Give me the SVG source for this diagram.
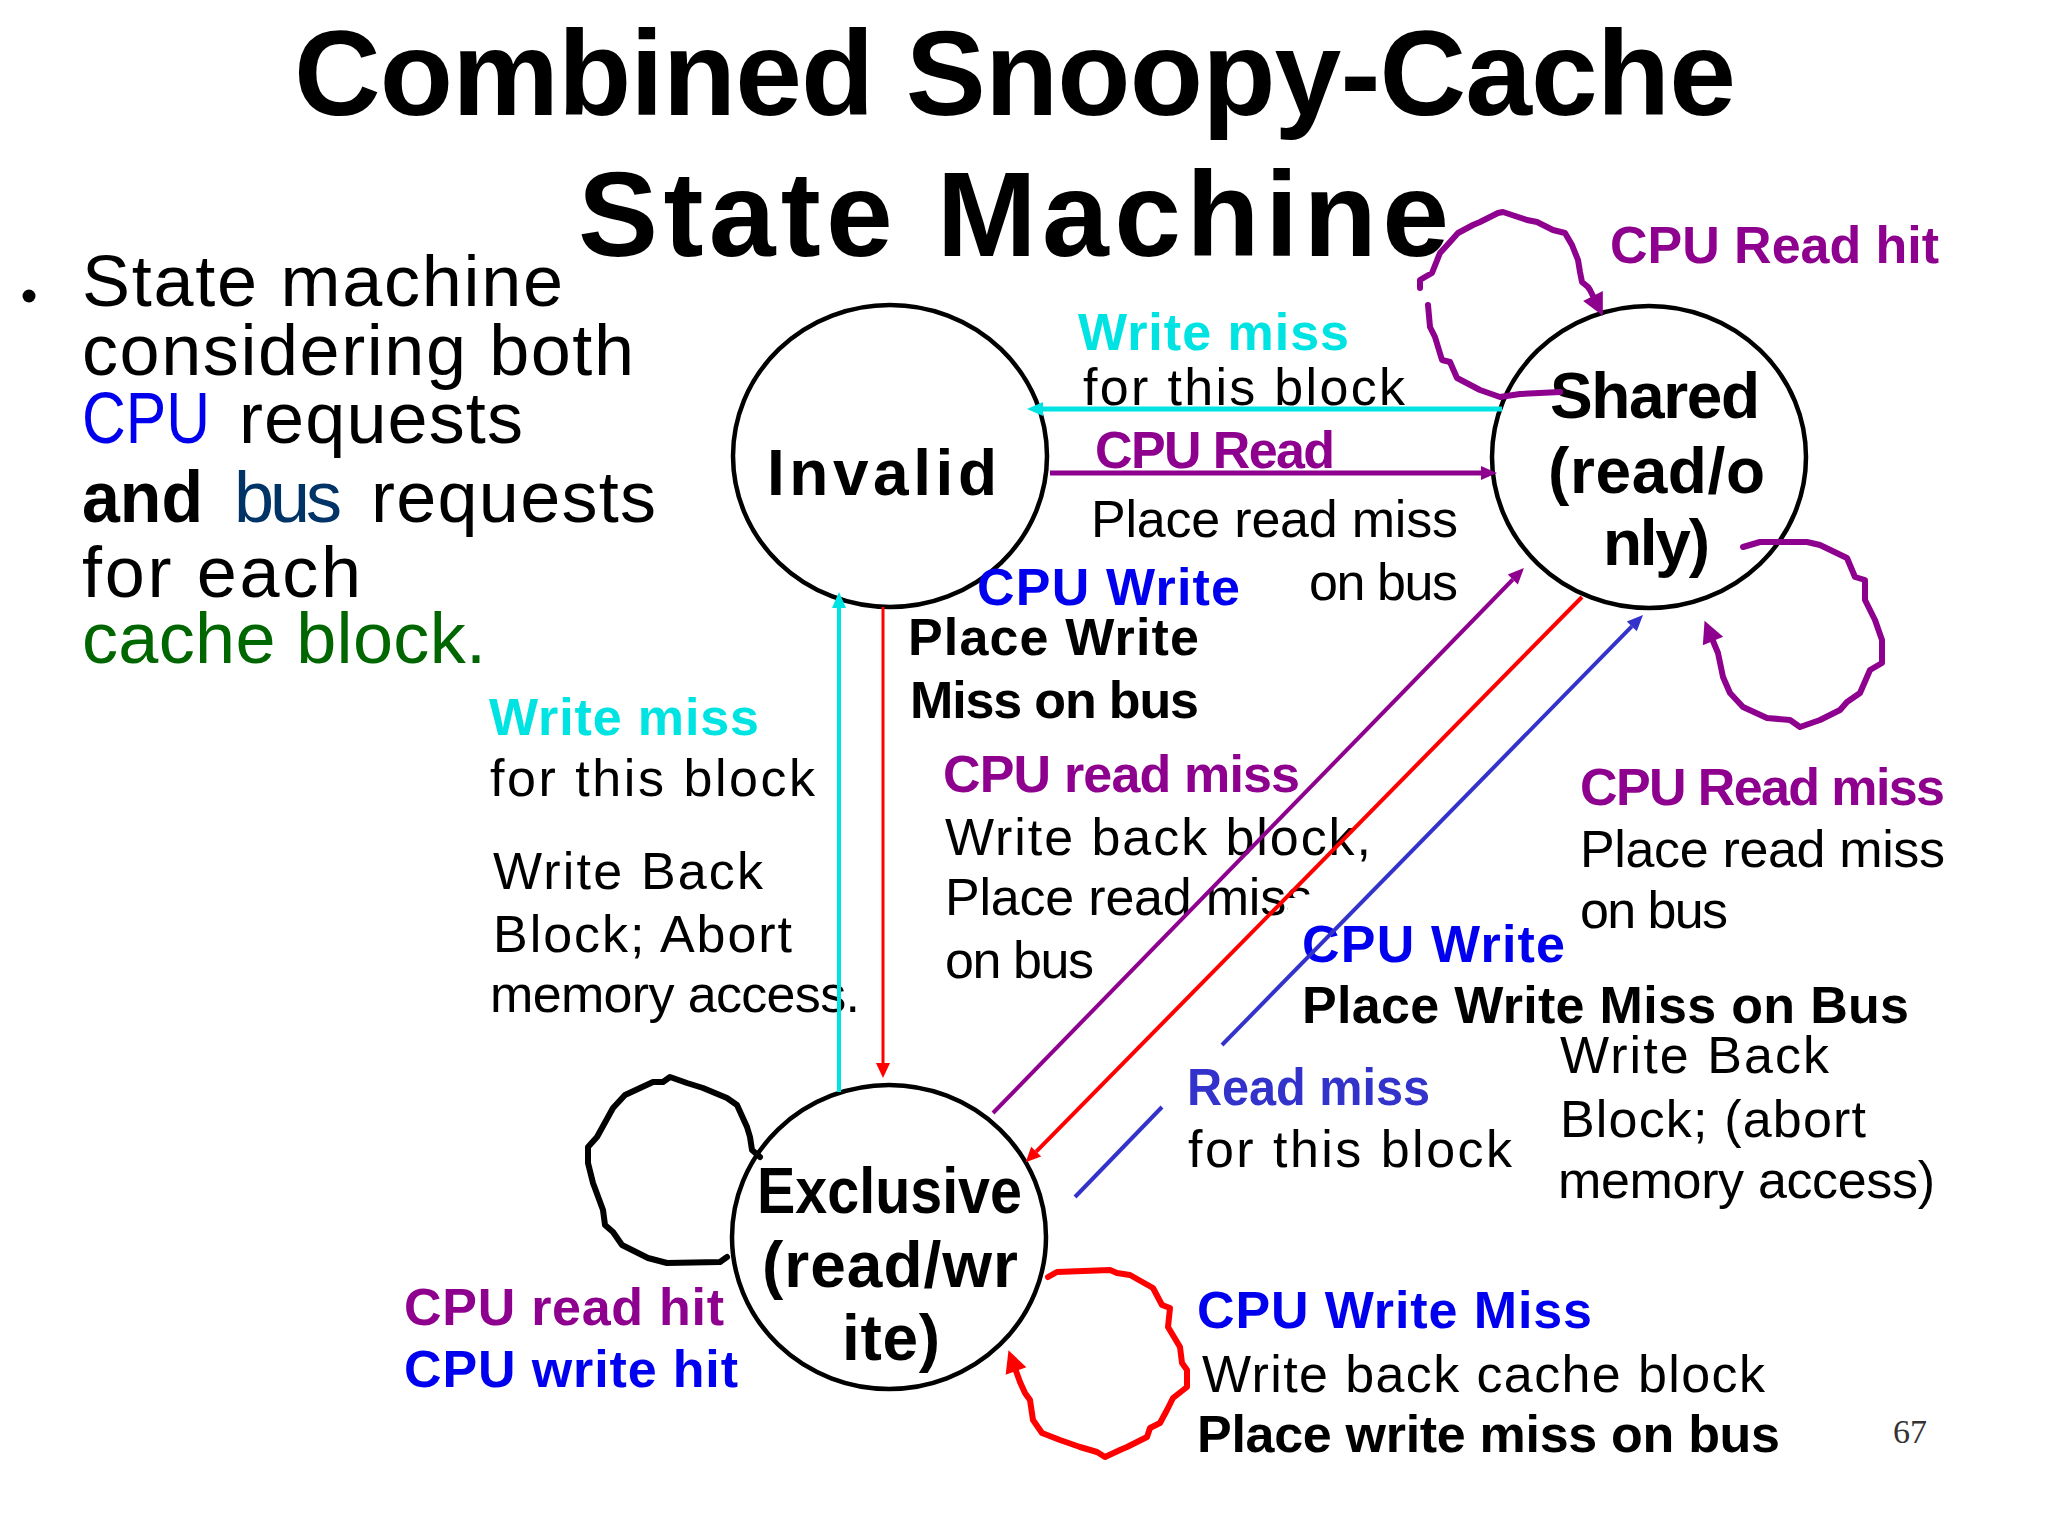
<svg xmlns="http://www.w3.org/2000/svg" width="2048" height="1536" viewBox="0 0 2048 1536">
<style>
text{font-family:"Liberation Sans","DejaVu Sans",sans-serif;}
.t{font-size:120px;font-weight:700;fill:#000;}
.b{font-size:72px;fill:#000;}
.n{font-size:64px;font-weight:700;fill:#000;}
.l{font-size:52px;fill:#000;}
.lb{font-size:52px;font-weight:700;}
.pur{fill:#8E008E;}
.cya{fill:#00E3E3;}
.blu{fill:#0000EE;}
.rb{fill:#3333CC;}
.blk{fill:#000;}
.node{fill:none;stroke:#000;stroke-width:4.5;}
.ln{fill:none;stroke-linejoin:round;}
.loop{fill:none;stroke-width:6;stroke-linejoin:round;stroke-linecap:round;}
</style>
<defs>
<marker id="a-cya" markerUnits="userSpaceOnUse" markerWidth="20" markerHeight="20" refX="0" refY="0" orient="auto" style="overflow:visible"><path d="M0,-7 L16,0 L0,7 Z" fill="#00E3E3"/></marker>
<marker id="a-pur" markerUnits="userSpaceOnUse" markerWidth="20" markerHeight="20" refX="0" refY="0" orient="auto" style="overflow:visible"><path d="M0,-7 L16,0 L0,7 Z" fill="#8E008E"/></marker>
<marker id="a-red" markerUnits="userSpaceOnUse" markerWidth="20" markerHeight="20" refX="0" refY="0" orient="auto" style="overflow:visible"><path d="M0,-7 L15,0 L0,7 Z" fill="#FF0000"/></marker>
<marker id="a-blu" markerUnits="userSpaceOnUse" markerWidth="20" markerHeight="20" refX="0" refY="0" orient="auto" style="overflow:visible"><path d="M0,-7 L16,0 L0,7 Z" fill="#3333CC"/></marker>
<marker id="L-pur" markerUnits="userSpaceOnUse" markerWidth="30" markerHeight="30" refX="0" refY="0" orient="auto" style="overflow:visible"><path d="M0,-11 L22,0 L0,11 Z" fill="#8E008E"/></marker>
<marker id="L-red" markerUnits="userSpaceOnUse" markerWidth="30" markerHeight="30" refX="0" refY="0" orient="auto" style="overflow:visible"><path d="M0,-11 L22,0 L0,11 Z" fill="#FF0000"/></marker>
<clipPath id="cutS"><rect x="900" y="850" width="520" height="48"/><rect x="900" y="898" width="388" height="50"/></clipPath>
</defs>
<rect width="2048" height="1536" fill="#fff"/>

<g id="title">
<text class="t" x="294" y="115" textLength="1442">Combined Snoopy-Cache</text>
<text class="t" x="578" y="256" textLength="871">State Machine</text>
</g>

<g id="bullet">
<circle cx="29" cy="296" r="6.5" fill="#000"/>
<text class="b" x="82" y="306" textLength="481">State machine</text>
<text class="b" x="82" y="375" textLength="552">considering both</text>
<text class="b" x="82" y="443" textLength="128" lengthAdjust="spacingAndGlyphs" style="fill:#0000EE">CPU</text>
<text class="b" x="239" y="443" textLength="284">requests</text>
<text class="b" x="82" y="522" textLength="121" lengthAdjust="spacingAndGlyphs" font-weight="700">and</text>
<text class="b" x="234" y="522" textLength="108" style="fill:#003366">bus</text>
<text class="b" x="371" y="522" textLength="285">requests</text>
<text class="b" x="82" y="597" textLength="279">for each</text>
<text class="b" x="82" y="663" textLength="404" style="fill:#006600">cache block.</text>
</g>

<g id="invalid">
<ellipse class="node" cx="890" cy="456" rx="157" ry="151"/>
<text class="n" x="767" y="495" textLength="230">Invalid</text>
</g>

<g id="shared">
<ellipse class="node" cx="1649" cy="457" rx="157" ry="151"/>
<text class="n" x="1550" y="418" textLength="210">Shared</text>
<text class="n" x="1548" y="493" textLength="217">(read/o</text>
<text class="n" x="1603" y="565" textLength="107">nly)</text>
</g>

<g id="exclusive">
<ellipse class="node" cx="889" cy="1237" rx="157" ry="152"/>
<text class="n" x="757" y="1213" textLength="265" lengthAdjust="spacingAndGlyphs">Exclusive</text>
<text class="n" x="762" y="1287" textLength="256">(read/wr</text>
<text class="n" x="842" y="1360" textLength="98">ite)</text>
</g>

<g id="labels">
<text class="lb pur" x="1610" y="263" textLength="329">CPU Read hit</text>
<text class="lb cya" x="1078" y="350" textLength="271">Write miss</text>
<text class="l" x="1083" y="405" textLength="322">for this block</text>
<text class="lb pur" x="1095" y="468" textLength="240">CPU Read</text>
<text class="l" x="1091" y="537" textLength="367">Place read miss</text>
<text class="l" x="1309" y="600" textLength="149">on bus</text>
<text class="lb blu" x="977" y="605" textLength="263">CPU Write</text>
<text class="lb blk" x="908" y="655" textLength="291">Place Write</text>
<text class="lb blk" x="910" y="718" textLength="289">Miss on bus</text>

<text class="lb cya" x="489" y="735" textLength="270">Write miss</text>
<text class="l" x="490" y="796" textLength="325">for this block</text>
<text class="l" x="493" y="889" textLength="270">Write Back</text>
<text class="l" x="493" y="952" textLength="299">Block; Abort</text>
<text class="l" x="490" y="1012" textLength="370">memory access.</text>

<text class="lb pur" x="943" y="792" textLength="357">CPU read miss</text>
<text class="l" x="945" y="855" textLength="426">Write back block,</text>
<text class="l" x="945" y="915" textLength="367" clip-path="url(#cutS)">Place read miss</text>
<text class="l" x="945" y="978" textLength="149">on bus</text>

<text class="lb blu" x="1302" y="962" textLength="263">CPU Write</text>
<text class="lb blk" x="1302" y="1023" textLength="607">Place Write Miss on Bus</text>

<text class="lb pur" x="1580" y="805" textLength="365">CPU Read miss</text>
<text class="l" x="1580" y="867" textLength="365">Place read miss</text>
<text class="l" x="1580" y="928" textLength="148">on bus</text>

<text class="lb rb" x="1187" y="1105" textLength="243" lengthAdjust="spacingAndGlyphs">Read miss</text>
<text class="l" x="1188" y="1167" textLength="324">for this block</text>

<text class="l" x="1560" y="1073" textLength="269">Write Back</text>
<text class="l" x="1560" y="1137" textLength="306">Block; (abort</text>
<text class="l" x="1558" y="1198" textLength="377">memory access)</text>

<text class="lb pur" x="404" y="1325" textLength="320">CPU read hit</text>
<text class="lb blu" x="404" y="1387" textLength="334">CPU write hit</text>

<text class="lb blu" x="1197" y="1328" textLength="395">CPU Write Miss</text>
<text class="l" x="1202" y="1392" textLength="563">Write back cache block</text>
<text class="lb blk" x="1197" y="1452" textLength="583">Place write miss on bus</text>

<text x="1893" y="1443" style="font-family:'Liberation Serif',serif;font-size:34px;fill:#333">67</text>
</g>

<g id="connectors">
<line class="ln" x1="1502" y1="409" x2="1043" y2="409" stroke="#00E3E3" stroke-width="5" marker-end="url(#a-cya)"/>
<line class="ln" x1="1050" y1="473" x2="1481" y2="473" stroke="#8E008E" stroke-width="5" marker-end="url(#a-pur)"/>
<line class="ln" x1="839" y1="1092" x2="839" y2="608" stroke="#00E3E3" stroke-width="4" marker-end="url(#a-cya)"/>
<line class="ln" x1="883" y1="607" x2="883" y2="1063" stroke="#FF0000" stroke-width="3" marker-end="url(#a-red)"/>
<line class="ln" x1="993" y1="1113" x2="1512.8" y2="579.5" stroke="#8E008E" stroke-width="4" marker-end="url(#a-pur)"/>
<line class="ln" x1="1582" y1="597" x2="1036.2" y2="1151.6" stroke="#FF0000" stroke-width="4" marker-end="url(#a-red)"/>
<line class="ln" x1="1222" y1="1045" x2="1631.8" y2="626.4" stroke="#3333CC" stroke-width="4" marker-end="url(#a-blu)"/>
<line class="ln" x1="1162" y1="1107" x2="1075" y2="1197" stroke="#3333CC" stroke-width="4"/>

<polyline class="loop" stroke="#8E008E" points="1560,392 1520,394 1500,397 1480,390 1457,378 1450,362 1442,360 1435,337 1430,327 1428,305"/>
<polyline class="loop" stroke="#8E008E" marker-end="url(#L-pur)" points="1420,288 1420,280 1425,277 1432,273 1440,253 1450,242 1458,233 1473,225 1480,222 1498,213 1503,212 1512,215 1527,220 1537,222 1553,230 1565,233 1572,245 1578,260 1580,272 1582,282 1588,287 1590,290 1593,296"/>
<polyline class="loop" stroke="#8E008E" marker-end="url(#L-pur)" points="1743,547 1760,542 1807,542 1820,545 1847,558 1855,577 1865,580 1865,600 1875,620 1882,640 1882,663 1870,670 1860,693 1847,702 1840,710 1820,720 1800,727 1790,720 1767,718 1743,707 1730,693 1723,677 1718,653 1713,641"/>
<polyline class="loop" stroke="#000" points="727,1257 720,1262 667,1263 648,1258 622,1245 613,1232 605,1225 603,1210 593,1183 588,1163 588,1147 597,1137 613,1108 625,1095 653,1082 663,1082 670,1077 687,1083 703,1088 727,1098 737,1105 747,1127 750,1137 752,1150 760,1157"/>
<polyline class="loop" stroke="#FF0000" marker-end="url(#L-red)" points="1048,1277 1057,1272 1110,1270 1117,1273 1130,1275 1153,1288 1162,1305 1170,1308 1168,1327 1180,1347 1182,1363 1187,1370 1187,1387 1173,1398 1167,1410 1160,1423 1150,1428 1147,1437 1127,1447 1120,1450 1105,1457 1097,1452 1080,1447 1060,1440 1042,1433 1033,1420 1030,1400 1025,1393 1020,1382 1016,1371"/>
</g>
</svg>
